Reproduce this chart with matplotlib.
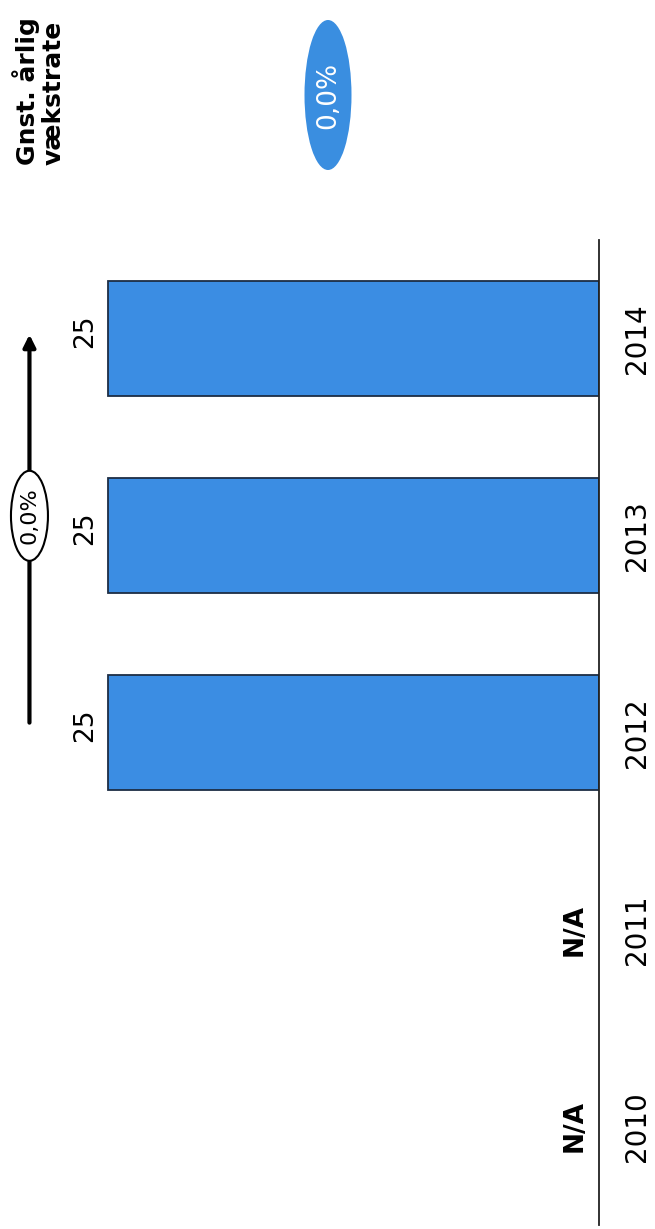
import numpy as np
import matplotlib
matplotlib.use("Agg")
import matplotlib.pyplot as plt
from matplotlib.patches import Ellipse
from matplotlib.transforms import ScaledTranslation

# --- data ---
years = ["2010", "2011", "2012", "2013", "2014"]
values = [None, None, 25, 25, 25]
cagr_label = "0,0%"
avg_growth = "0,0%"
title_lines = ["Gnst. årlig", "vækstrate"]

BAR_BLUE = "#3b8de3"
EDGE = "#1d2d44"

plt.rcParams["font.family"] = ["DejaVu Sans"]

W, H = 655, 1229
fig = plt.figure(figsize=(W / 100, H / 100), dpi=100)
ax = fig.add_axes([0, 4 / H, 599 / W, 985 / H])

pos = np.arange(len(years))
for p, v in zip(pos, values):
    if v is None:
        ax.annotate("N/A", xy=(0, p), xytext=(-8, 0), textcoords="offset points",
                    rotation=90, ha="right", va="center", fontsize=19,
                    fontweight="bold")
    else:
        ax.barh(p, v, height=0.58, color=BAR_BLUE, edgecolor=EDGE, linewidth=1.3)
        ax.annotate(f"{v:g}", xy=(v, p), xytext=(-7, 5), textcoords="offset points",
                    rotation=90, ha="right", va="center", fontsize=19)

ax.set_xlim(30.5, 0)
ax.set_ylim(-0.5, 4.5)
ax.set_yticks(pos)
ax.set_yticklabels(years, rotation=90, va="center", fontsize=20)
ax.yaxis.tick_right()
ax.tick_params(axis="y", length=0, pad=17)
ax.set_xticks([])
for side in ["top", "bottom", "left"]:
    ax.spines[side].set_visible(False)
ax.spines["right"].set_linewidth(1.3)
ax.spines["right"].set_color("#222222")
ax.patch.set_alpha(0)

# --- growth arrow from first to last bar ---
valid = [p for p, v in zip(pos, values) if v is not None]
ax_x = 29.0
ax.annotate("", xy=(ax_x, valid[-1] + 0.02), xytext=(ax_x, valid[0] + 0.05),
            arrowprops=dict(arrowstyle="-|>", lw=3, color="black", mutation_scale=18,
                            shrinkA=0, shrinkB=0))
mid = (valid[0] + valid[-1]) / 2 + 0.1
tr = fig.dpi_scale_trans + ScaledTranslation(ax_x, mid, ax.transData)
ax.add_patch(Ellipse((0, 0), 0.37, 0.9, transform=tr, facecolor="white",
                     edgecolor="black", linewidth=1.5, zorder=3, clip_on=False))
ax.text(ax_x, mid, cagr_label, rotation=90, ha="center", va="center",
        fontsize=16, zorder=4)

# --- header: average growth ---
fig.text(12 / W, 1 - 165 / H, "\n".join(title_lines), rotation=90, ha="left",
         va="bottom", fontsize=18, fontweight="bold", multialignment="left",
         linespacing=1.08)
cx, cy = 328 / W, 1 - 95 / H
fig.add_artist(Ellipse((cx, cy), 47 / W, 150 / H, transform=fig.transFigure,
                       facecolor="#3a8ee0", edgecolor="none"))
fig.text(cx, cy, avg_growth, rotation=90, ha="center", va="center", fontsize=19,
         color="white")

fig.savefig("out.png", dpi=100)
